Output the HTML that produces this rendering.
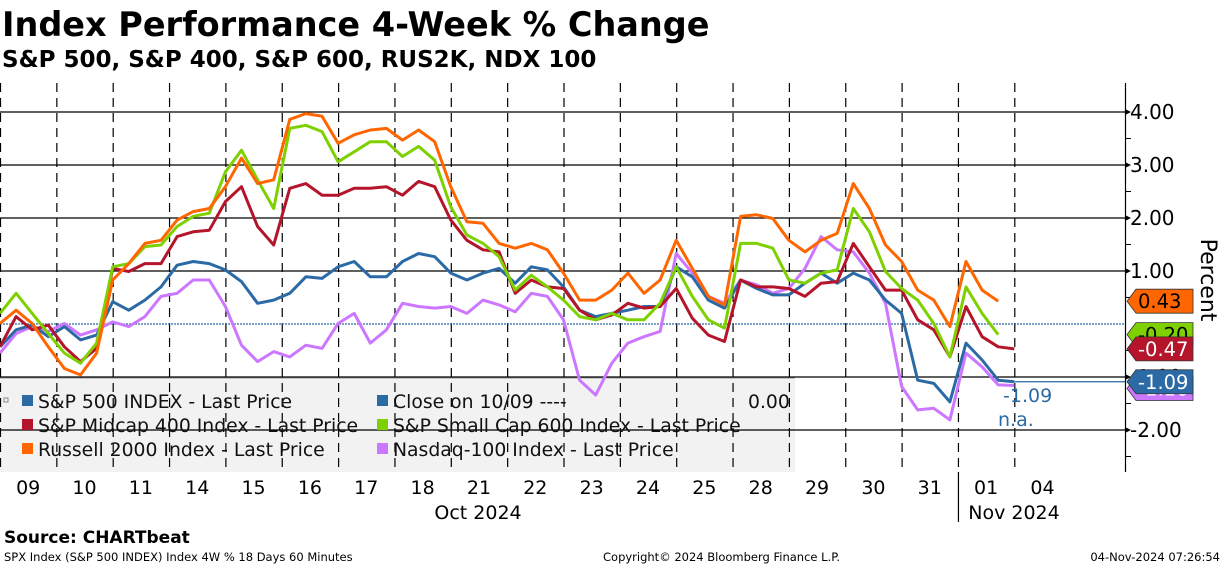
<!DOCTYPE html>
<html><head><meta charset="utf-8"><style>
body{margin:0;background:#fff;width:1224px;height:566px;overflow:hidden;font-family:"Liberation Sans",sans-serif}
svg{display:block}
</style></head><body>
<svg id="chart" width="1224" height="566" xmlns="http://www.w3.org/2000/svg" font-family="'DejaVu Sans','Liberation Sans',sans-serif">
<text x="2" y="36" font-size="33.5" font-weight="bold" font-family="'DejaVu Sans',sans-serif">Index Performance 4-Week % Change</text>
<text x="2" y="67" font-size="23" font-weight="bold" font-family="'DejaVu Sans',sans-serif">S&amp;P 500, S&amp;P 400, S&amp;P 600, RUS2K, NDX 100</text>
<rect x="0" y="378" width="795" height="94" fill="#f2f2f2"/>
<line x1="0" y1="378" x2="795" y2="378" stroke="#999" stroke-width="1"/>
<g id="grid"></g>
<g id="series"></g>
<g id="legend" font-size="18.8" fill="#111">
<rect x="4" y="398" width="4" height="4" fill="none" stroke="#888"/>
<rect x="22" y="395" width="11" height="11" fill="#2c6aa5"/>
<text x="38" y="408">S&amp;P 500 INDEX - Last Price</text>
<rect x="22" y="419" width="11" height="11" fill="#b5152b"/>
<text x="38" y="432">S&amp;P Midcap 400 Index - Last Price</text>
<rect x="22" y="443" width="11" height="11" fill="#ff6600"/>
<text x="38" y="456">Russell 2000 Index - Last Price</text>
<rect x="377" y="395" width="11" height="11" fill="#2c6aa5"/>
<text x="393" y="408">Close on 10/09 ----</text>
<text x="748" y="408">0.00</text>
<rect x="377" y="419" width="11" height="11" fill="#7ed000"/>
<text x="393" y="432">S&amp;P Small Cap 600 Index - Last Price</text>
<rect x="377" y="443" width="11" height="11" fill="#cc77ff"/>
<text x="393" y="456">Nasdaq-100 Index - Last Price</text>
</g>
<g id="axes"></g>
<text x="1003" y="402" font-size="19" fill="#2c6aa5">-1.09</text>
<text x="998" y="426" font-size="19" fill="#2c6aa5">n.a.</text>
<text transform="translate(1201,280) rotate(90)" text-anchor="middle" font-size="22">Percent</text>
<text x="4" y="543" font-size="17" font-weight="bold">Source: CHARTbeat</text>
<text x="4" y="561" font-size="11.5">SPX Index (S&amp;P 500 INDEX) Index 4W % 18 Days 60 Minutes</text>
<text x="603" y="561" font-size="11.5">Copyright© 2024 Bloomberg Finance L.P.</text>
<text x="1220" y="561" font-size="11.5" text-anchor="end">04-Nov-2024 07:26:54</text>
</svg>
<script>
const dayLabels=['09','10','11','14','15','16','17','18','21','22','23','24','25','28','29','30','31','01','04'];
const yTicks=[4,3,2,1,0,-1,-2];
const yTickLabels=['4.00','3.00','2.00','1.00','0.00','-1.00','-2.00'];
const rty=[0.01,0.26,0.01,-0.43,-0.84,-0.96,-0.55,0.83,1.14,1.52,1.58,1.96,2.12,2.18,2.59,3.13,2.65,2.72,3.86,3.97,3.92,3.41,3.57,3.66,3.69,3.47,3.66,3.44,2.59,
1.93,1.90,1.52,1.43,1.52,1.40,0.96,0.45,0.45,0.64,0.96,0.58,0.83,1.58,1.05,0.52,0.36,2.03,2.06,1.99,1.58,1.36,1.58,1.71,2.65,
2.18,1.49,1.18,0.64,0.45,-0.05,1.18,0.64,0.43];
const sml=[0.2,0.58,0.2,-0.18,-0.55,-0.74,-0.36,1.08,1.14,1.46,1.49,1.84,2.03,2.09,2.87,3.28,2.72,2.18,3.69,3.75,3.63,3.06,3.25,3.44,3.44,3.16,3.35,3.09,2.21,
1.68,1.52,1.27,0.64,0.92,0.70,0.45,0.14,0.08,0.2,0.08,0.08,0.39,1.08,0.52,0.08,-0.08,1.52,1.52,1.43,0.83,0.77,0.96,1.02,2.18,
1.74,0.99,0.67,0.45,0.01,-0.62,0.70,0.2,-0.20];
const mid=[-0.43,0.14,-0.11,-0.02,-0.43,-0.71,-0.46,1.05,0.99,1.14,1.14,1.65,1.74,1.77,2.31,2.59,1.84,1.49,2.56,2.65,2.43,2.43,2.56,2.56,2.59,2.43,2.69,2.59,1.96,
1.58,1.40,1.36,0.58,0.83,0.70,0.67,0.26,0.08,0.17,0.39,0.30,0.33,0.67,0.11,-0.21,-0.33,0.83,0.70,0.70,0.67,0.52,0.77,0.80,1.52,
1.08,0.64,0.64,0.08,-0.11,-0.62,0.33,-0.24,-0.43,-0.47];
const spx=[-0.43,-0.11,-0.02,-0.24,-0.05,-0.30,-0.21,0.42,0.26,0.45,0.70,1.11,1.18,1.14,1.02,0.80,0.39,0.45,0.58,0.89,0.86,1.08,1.18,0.89,0.89,1.18,1.33,1.27,0.96,
0.83,0.96,1.05,0.77,1.08,1.02,0.70,0.26,0.14,0.2,0.26,0.33,0.33,1.08,0.89,0.45,0.30,0.83,0.67,0.55,0.55,0.77,0.96,0.77,0.96,
0.83,0.45,0.20,-1.06,-1.12,-1.47,-0.36,-0.68,-1.06,-1.09];
const ndx=[-0.55,-0.18,-0.05,-0.14,0.01,-0.21,-0.11,0.04,-0.05,0.14,0.52,0.58,0.83,0.83,0.33,-0.40,-0.71,-0.52,-0.62,-0.40,-0.46,0.01,0.20,-0.36,-0.11,0.39,0.33,0.30,0.33,
0.20,0.45,0.36,0.23,0.58,0.52,0.08,-1.06,-1.34,-0.74,-0.36,-0.24,-0.14,1.33,0.96,0.52,0.39,0.83,0.74,0.58,0.67,1.05,1.65,1.40,1.36,
0.96,0.39,-1.18,-1.62,-1.59,-1.81,-0.55,-0.81,-1.15,-1.16];
const lastValues=[0.43,-0.20,-0.47,-1.09];

const NS='http://www.w3.org/2000/svg';
const DAY=56.35, STEP=16.1/56.35, PLOT_R=1125, TOP=83, BOT=472;
function xScale(d){return d*DAY;}
function yScale(v){return 324-v*53;}
function mk(tag,attrs,parent){const e=document.createElementNS(NS,tag);for(const k in attrs)e.setAttribute(k,attrs[k]);parent.appendChild(e);return e;}
const grid=document.getElementById('grid'),axes=document.getElementById('axes'),ser=document.getElementById('series');
for(let i=0;i<=18;i++){
 const l=mk('line',{x1:xScale(i)+0.5,x2:xScale(i)+0.5,y1:TOP,y2:BOT,stroke:'#000','stroke-width':1.2,'stroke-dasharray':'9,6'},grid);
 
 
}
yTicks.forEach((v,i)=>{
 const y=yScale(v);
 const l=mk('line',{x1:0,x2:PLOT_R,y1:y,y2:y,stroke:v===0?'#2c6aa5':'#000','stroke-width':v===0?1.3:1.2,'stroke-dasharray':v===0?'2,1':'none'},grid);
 
 
 if(v!==0){
  const t=mk('text',{x:1130,y:y+7,'font-size':20},axes);t.textContent=yTickLabels[i];
  
  
  mk('path',{d:`M${PLOT_R},${y-3}L${PLOT_R+6},${y}L${PLOT_R},${y+3}Z`,fill:'#000'},axes);
 }
 mk('line',{x1:PLOT_R,x2:PLOT_R+6,y1:y+26.5,y2:y+26.5,stroke:'#000'},axes);
});
mk('line',{x1:PLOT_R+0.5,x2:PLOT_R+0.5,y1:TOP,y2:BOT,stroke:'#000','stroke-width':1.2},axes);
dayLabels.forEach((d,i)=>{
 const t=mk('text',{x:xScale(i+0.5),y:494,'font-size':19,'text-anchor':'middle'},axes);t.textContent=d;
 
 
});
mk('line',{x1:xScale(17)+0.5,x2:xScale(17)+0.5,y1:BOT,y2:522,stroke:'#000','stroke-width':1.2},axes);
const m1=mk('text',{x:478,y:519,'font-size':19,'text-anchor':'middle'},axes);m1.textContent='Oct 2024';


const m2=mk('text',{x:1014,y:519,'font-size':19,'text-anchor':'middle'},axes);m2.textContent='Nov 2024';


function drawSeries(vals,color,name){
 const d=vals.map((v,k)=>(k?'L':'M')+xScale(k*STEP).toFixed(1)+','+yScale(v).toFixed(1)).join('');
 const p=mk('path',{d:d,fill:'none',stroke:color,'stroke-width':3,'stroke-linejoin':'round'},ser);
 
 
}
drawSeries(ndx,'#cc77ff','series-ndx');
drawSeries(spx,'#2c6aa5','series-spx');
drawSeries(mid,'#b5152b','series-midcap');
drawSeries(sml,'#7ed000','series-smallcap');
drawSeries(rty,'#ff6600','series-russell');
const cl=mk('line',{x1:xScale((spx.length-1)*STEP),x2:PLOT_R,y1:yScale(spx[spx.length-1]),y2:yScale(spx[spx.length-1]),stroke:'#2c6aa5','stroke-width':1.2},ser);


function tag(v,color,txtColor,name,extraY){
 const y=yScale(v)+(extraY||0);
 const g=mk('g',{},axes);
 
 
 mk('path',{d:`M1127,${y}L1136,${y-12}L1193,${y-12}L1193,${y+12}L1136,${y+12}Z`,fill:color,stroke:'#333','stroke-width':0.8},g);
 const t=mk('text',{x:1138,y:y+7,'font-size':19.5,fill:txtColor},g);t.textContent=v.toFixed(2);
}
tag(-1.16,'#cc77ff','#fff','tag-ndx',3);
tag(lastValues[1],'#7ed000','#000','tag-smallcap',0);
tag(lastValues[0],'#ff6600','#000','tag-russell',0);
tag(lastValues[2],'#b5152b','#fff','tag-midcap',0);
tag(lastValues[3],'#2c6aa5','#fff','tag-spx',0);
</script>
</body></html>
